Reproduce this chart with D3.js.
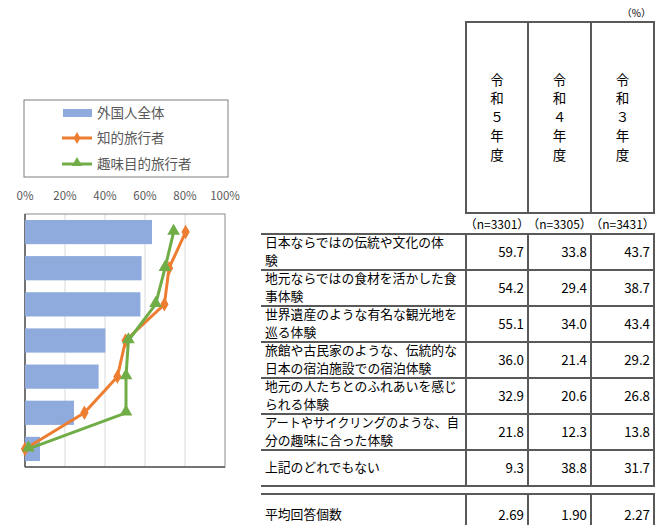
<!DOCTYPE html>
<html><head><meta charset="utf-8">
<script src="https://cdn.jsdelivr.net/npm/d3@7"></script>
<style>body{margin:0;background:#fff}svg{display:block}</style>
</head><body>
<script>
const categories = ["c1","c2","c3","c4","c5","c6","c7"];
const allForeign = [63.5, 58.3, 57.7, 40.2, 36.8, 24.5, 7.5];
const intellectual = [80.3, 72.0, 69.7, 50.3, 46.2, 29.7, 0.0];
const hobby = [74.3, 70.0, 65.3, 51.7, 50.5, 50.5, 1.7];
const xTicks = [0, 20, 40, 60, 80, 100];
const legendLabels = ["外国人全体", "知的旅行者", "趣味目的旅行者"];

const rowLabels = [
  ["日本ならではの伝統や文化の体", "験"],
  ["地元ならではの食材を活かした食", "事体験"],
  ["世界遺産のような有名な観光地を", "巡る体験"],
  ["旅館や古民家のような、伝統的な", "日本の宿泊施設での宿泊体験"],
  ["地元の人たちとのふれあいを感じ", "られる体験"],
  ["アートやサイクリングのような、自", "分の趣味に合った体験"],
  ["上記のどれでもない"]
];
const yearHeaders = ["令和５年度", "令和４年度", "令和３年度"];
const sampleSizes = ["（n=3301）", "（n=3305）", "（n=3431）"];
const r5 = ["59.7","54.2","55.1","36.0","32.9","21.8","9.3"];
const r4 = ["33.8","29.4","34.0","21.4","20.6","12.3","38.8"];
const r3 = ["43.7","38.7","43.4","29.2","26.8","13.8","31.7"];
const avgLabel = "平均回答個数";
const avgValues = ["2.69","1.90","2.27"];

const W = 664, H = 525;
const font = "'Noto Sans CJK JP', 'Noto Sans', sans-serif";
const svg = d3.select("body").append("svg").attr("width", W).attr("height", H)
  .style("font-family", font);

// ---------- chart ----------
const x = d3.scaleLinear().domain([0,100]).range([25,225]);
const y = d3.scaleBand().domain(categories).range([214,467]).paddingInner(0.33).paddingOuter(0.165);
const blue = "#8FAADC", orange = "#ED7D31", green = "#70AD47";

svg.append("g").selectAll("line").data(xTicks.filter(d => d > 0 && d < 100)).join("line")
  .attr("x1", d => x(d)).attr("x2", d => x(d)).attr("y1", 214).attr("y2", 467)
  .attr("stroke", "#d9d9d9").attr("stroke-width", 1);

svg.append("rect").attr("x", 25).attr("y", 214).attr("width", 200).attr("height", 253)
  .attr("fill", "none").attr("stroke", "#8c8c8c").attr("stroke-width", 1);
svg.append("line").attr("x1", 25).attr("x2", 25).attr("y1", 214).attr("y2", 467).attr("stroke", "#595959").attr("stroke-width", 1.5);
svg.append("line").attr("x1", 25).attr("x2", 225).attr("y1", 467).attr("y2", 467).attr("stroke", "#595959").attr("stroke-width", 1.5);

svg.append("g").selectAll("text").data(xTicks).join("text")
  .attr("x", d => x(d)).attr("y", 196).attr("dy", "0.35em").attr("text-anchor", "middle")
  .attr("font-size", 11.5).attr("fill", "#595959").text(d => d + "%");

svg.append("g").selectAll("rect").data(categories).join("rect")
  .attr("x", x(0)).attr("y", d => y(d)).attr("height", y.bandwidth())
  .attr("width", (d,i) => x(allForeign[i]) - x(0)).attr("fill", blue);

const cy = d => y(d) + y.bandwidth()/2;
const line = d3.line().x(p => x(p[0])).y(p => p[1]);
const oPts = categories.map((c,i) => [intellectual[i], cy(c)]);
const gPts = categories.map((c,i) => [hobby[i], cy(c)]);

svg.append("path").attr("d", line(oPts)).attr("fill","none").attr("stroke", orange).attr("stroke-width", 3).attr("stroke-linejoin","round");
svg.append("g").selectAll("path").data(oPts).join("path")
  .attr("d", d3.symbol(d3.symbolDiamond, 60)())
  .attr("transform", p => `translate(${x(p[0])},${p[1]})`).attr("fill", orange);

svg.append("path").attr("d", line(gPts)).attr("fill","none").attr("stroke", green).attr("stroke-width", 3).attr("stroke-linejoin","round");
svg.append("g").selectAll("path").data(gPts).join("path")
  .attr("d", d3.symbol(d3.symbolTriangle, 70)())
  .attr("transform", p => `translate(${x(p[0])},${p[1]-1})`).attr("fill", green);

// legend
const lg = svg.append("g");
lg.append("rect").attr("x", 24).attr("y", 100).attr("width", 204).attr("height", 77)
  .attr("fill", "#fff").attr("stroke", "#7f7f7f").attr("stroke-width", 1);
const ly = [113, 138, 164];
lg.append("rect").attr("x", 63).attr("y", ly[0]-4).attr("width", 29).attr("height", 8).attr("fill", blue);
lg.append("line").attr("x1", 62).attr("x2", 92).attr("y1", ly[1]).attr("y2", ly[1]).attr("stroke", orange).attr("stroke-width", 3);
lg.append("path").attr("d", d3.symbol(d3.symbolDiamond, 40)()).attr("transform", `translate(77,${ly[1]})`).attr("fill", orange);
lg.append("line").attr("x1", 62).attr("x2", 92).attr("y1", ly[2]).attr("y2", ly[2]).attr("stroke", green).attr("stroke-width", 3);
lg.append("path").attr("d", d3.symbol(d3.symbolTriangle, 45)()).attr("transform", `translate(77,${ly[2]-1})`).attr("fill", green);
lg.selectAll("text").data(legendLabels).join("text")
  .attr("x", 97).attr("y", (d,i) => ly[i]).attr("dy", "0.35em")
  .attr("font-size", 13.5).attr("fill", "#595959").text(d => d);

// ---------- table ----------
const colX = [466, 528, 591, 654];
const border = "#595959";
const tg = svg.append("g");
tg.append("text").attr("x", 651).attr("y", 13).attr("dy","0.35em").attr("text-anchor","end")
  .attr("font-size", 10).attr("fill", "#000").text("（%）");

tg.append("rect").attr("x", colX[0]).attr("y", 22).attr("width", colX[3]-colX[0]).attr("height", 191)
  .attr("fill","none").attr("stroke", border).attr("stroke-width", 2);
[1,2].forEach(i => tg.append("line").attr("x1", colX[i]).attr("x2", colX[i]).attr("y1", 22).attr("y2", 213).attr("stroke", border).attr("stroke-width", 2));
yearHeaders.forEach((h,i) => {
  const cx = (colX[i] + colX[i+1]) / 2;
  const t = tg.append("text").attr("font-size", 13.5).attr("fill","#000").attr("text-anchor","middle");
  Array.from(h).forEach((ch,j) => {
    t.append("tspan").attr("x", cx).attr("y", 80 + j*18.7).attr("dy","0.35em").text(ch);
  });
  tg.append("text").attr("x", cx).attr("y", 225).attr("dy","0.35em").attr("text-anchor","middle")
    .attr("font-size", 12).attr("fill","#000").text(sampleSizes[i]);
});

const rowTop = 234, rowH = 36;
const nRows = rowLabels.length;
for (let r = 0; r <= nRows; r++) {
  tg.append("line").attr("x1", 261).attr("x2", colX[3]+1).attr("y1", rowTop + r*rowH).attr("y2", rowTop + r*rowH)
    .attr("stroke", border).attr("stroke-width", 2);
}
colX.forEach(cxv => tg.append("line").attr("x1", cxv).attr("x2", cxv).attr("y1", rowTop).attr("y2", rowTop + nRows*rowH).attr("stroke", border).attr("stroke-width", 2));
const cols = [r5, r4, r3];
const maxLabelW = 194;
function labelText(xp, ys, lines) {
  const t = tg.append("text").attr("font-size", 12.8).attr("fill","#000");
  lines.forEach((txt, k) => {
    const s = t.append("tspan").attr("x", xp).attr("y", ys[k]).attr("dy","0.35em").text(txt);
    const w = s.node().getComputedTextLength();
    if (w > maxLabelW) s.attr("textLength", maxLabelW).attr("lengthAdjust", "spacingAndGlyphs");
  });
  return t;
}
rowLabels.forEach((lab, r) => {
  const top = rowTop + r*rowH;
  if (lab.length === 2) labelText(265, [top + 8.5, top + 27], lab);
  else labelText(265, [top + 18], lab);
  cols.forEach((c, ci) => {
    tg.append("text").attr("x", colX[ci+1] - 4).attr("y", top + 18).attr("dy","0.35em").attr("text-anchor","end")
      .attr("font-size", 13.3).attr("fill","#000").text(c[r]);
  });
});

const avTop = 494;
tg.append("line").attr("x1", 261).attr("x2", colX[3]+1).attr("y1", avTop).attr("y2", avTop).attr("stroke", border).attr("stroke-width", 2);
colX.forEach(cxv => tg.append("line").attr("x1", cxv).attr("x2", cxv).attr("y1", avTop).attr("y2", H).attr("stroke", border).attr("stroke-width", 2));
labelText(265, [515], [avgLabel]);
avgValues.forEach((v, ci) => tg.append("text").attr("x", colX[ci+1] - 4).attr("y", 515).attr("dy","0.35em").attr("text-anchor","end")
  .attr("font-size", 13.3).attr("fill","#000").text(v));
</script>
</body></html>
